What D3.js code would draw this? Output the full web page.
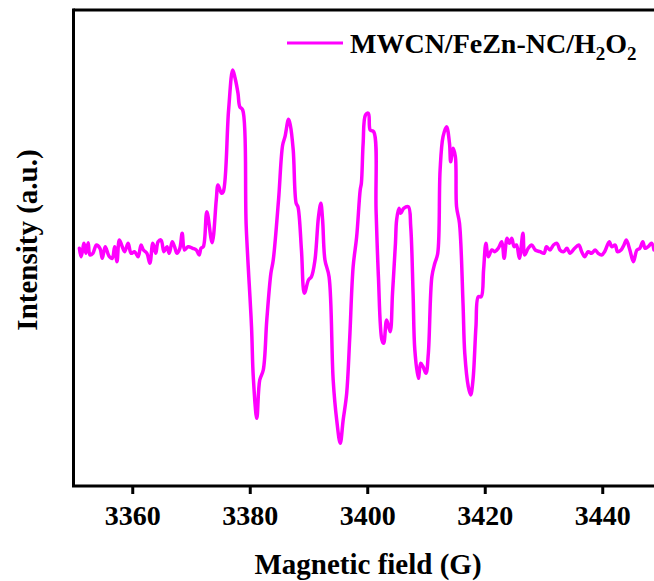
<!DOCTYPE html>
<html>
<head>
<meta charset="utf-8">
<script src="https://cdn.jsdelivr.net/npm/d3@7"></script>
<style>
  html, body { margin: 0; padding: 0; background: #fff; }
  svg { display: block; }
  text { font-family: "Liberation Serif", "Times New Roman", serif; font-weight: bold; fill: #000; }
</style>
</head>
<body>
<svg id="chart" width="654" height="581"></svg>
<script>
// Magnetic field (G)
const field = [
  3351.0,3351.3,3351.8,3352.1,3352.5,3352.8,3353.3,3353.9,3354.5,3354.9,3355.4,3356.1,3356.6,3357.0,3357.4,3357.8,3358.3,
  3358.7,3359.3,3359.8,3360.4,3361.0,3361.5,3361.9,3362.5,3363.0,3363.5,3364.0,3364.4,3364.9,3365.4,3365.9,3366.3,3366.8,
  3367.2,3367.6,3368.1,3368.5,3368.9,3369.5,3370.3,3370.9,3371.4,3371.7,3372.1,
  3372.7,3373.6,3374.3,3374.6,3375.2,3375.5,3376.4,3377.1,3377.5,3378.0,3378.3,3378.8,3379.4,3380.3,3380.6,3381.2,
  3381.7,3382.3,3382.9,3383.6,3384.0,3384.9,3385.6,3386.0,3386.6,3386.9,3387.4,3387.9,3388.2,3388.8,3389.3,3390.0,
  3390.5,3391.1,3391.7,3392.1,3392.4,3392.8,3393.5,3394.2,3394.8,3395.4,3395.9,3396.5,3397.0,3397.6,3398.2,3398.8,
  3399.0,3399.3,3399.7,3400.2,3400.5,3401.1,3401.5,3401.9,3402.5,3402.8,3403.3,3403.9,3404.3,3404.8,3405.0,3405.4,
  3405.7,3406.2,3407.0,3407.4,3407.8,3408.1,3408.7,3409.1,3409.5,3410.0,3410.4,3411.0,3411.5,3412.0,3412.4,3412.9,
  3413.5,3414.0,3414.2,3414.6,3415.0,3415.2,3415.7,3416.3,3416.6,3417.2,3417.6,3418.0,3418.5,3418.9,3419.4,3419.8,3420.2,
  3420.6,3421.2,3421.7,3422.3,3422.9,3423.3,3423.8,3424.2,3424.6,3425.0,3425.4,3425.9,3426.5,3426.8,3427.4,3428.0,3428.6,
  3429.4,3430.1,3430.5,3431.1,3431.7,3432.3,3432.8,3433.4,3434.0,3434.5,3435.3,3436.0,3436.5,3437.0,3437.6,3438.2,
  3438.8,3439.3,3439.9,3440.4,3441.2,3441.6,3442.2,3442.6,3443.2,3443.7,3444.1,3444.7,3445.3,3445.9,3446.4,3446.9,
  3447.3,3447.8,3448.4,3448.8
];
// Intensity (a.u.)
const intensity = [
  1.7,-6.7,6.7,-3.3,7.3,-5,-3.3,5,1.7,-8.3,3.3,-6.7,-8.3,3.3,-11.7,10,3.3,
  -1.7,6.7,-3.3,-1.7,-6.7,5,0,-3.3,-13.3,6.7,-3.3,8.3,10,-1.7,3.3,-3.3,8.3,
  3.3,-3.3,1.7,16.7,0,3.3,1.7,0,-5,1.7,3.3,
  38.3,7.3,50,65,56.7,58.3,140,180,172,156.7,143.3,140,23.3,-76.7,-126.7,-168.3,
  -130,-120,-70,-23.3,-10,50,105,113.3,130.7,125,100,46.7,43.3,0,-43.3,-30,
  -26.7,-10,33.3,46.7,30,-10,-26.7,-130,-170,-193.3,-170,-143.3,-90,-16.7,13.3,60,
  66.7,106.7,135,136.7,120,118.3,40,-26.7,-90,-93.3,-70,-81.7,-43.3,6.7,30,41.7,
  36.7,41.7,43.3,23.3,-43.3,-100,-128.3,-113.3,-116.7,-123.3,-103.3,-26.7,-13.3,-3.3,80,113.3,
  123.3,106.7,88.3,101.7,93.3,43.3,26.7,-53.3,-103.3,-136.7,-145,-130,-76.7,-46.7,-46.7,-20,6.7,
  -6.7,0,-1.7,1.7,8.3,-8.3,11.7,6.7,11.7,3.3,5,-8.3,16.7,-5,1.7,5,0,
  -1.7,-3.3,3.3,0,5,6.7,0,-1.7,1.7,-3.3,1.7,5,-1.7,-6.7,-1.7,-3.3,
  0,-3.3,-5,-1.7,8.3,3.3,5,-1.7,0,5,10,0,-11.7,0,1.7,8.3,
  1.7,3.3,6.7,0
];
const xTicks = [3360, 3380, 3400, 3420, 3440];
const seriesName = ["MWCN/FeZn-NC/H", "2", "O", "2"];
const xTitle = "Magnetic field (G)";
const yTitle = "Intensity (a.u.)";

const data = field.map((f, i) => ({x: f, y: intensity[i]}));

const svg = d3.select("#chart");
const mLeft = 73.5, mTop = 10, mBottom = 486, mRight = 661;
const x = d3.scaleLinear().domain([3350, 3450]).range([mLeft, mRight]);
const y = d3.scaleLinear().domain([-236, 240]).range([mBottom, mTop]);

const color = "#ff00ff";
const axisW = 3;

// frame (top and left; right side falls outside the picture)
svg.append("line").attr("x1", mLeft).attr("x2", mRight).attr("y1", mTop).attr("y2", mTop)
  .attr("stroke", "#000").attr("stroke-width", axisW);
svg.append("line").attr("x1", mLeft).attr("x2", mLeft).attr("y1", mTop - axisW / 2).attr("y2", mBottom)
  .attr("stroke", "#000").attr("stroke-width", axisW);

// x axis
const xAxis = d3.axisBottom(x).tickValues(xTicks).tickSize(8).tickPadding(11).tickFormat(d3.format("d"));
const gx = svg.append("g").attr("transform", `translate(0,${mBottom})`).call(xAxis);
gx.select(".domain").remove();
gx.append("line").attr("x1", mLeft - axisW / 2).attr("x2", mRight).attr("y1", 0).attr("y2", 0)
  .attr("stroke", "#000").attr("stroke-width", axisW);
gx.selectAll(".tick line").attr("stroke", "#000").attr("stroke-width", axisW);
gx.selectAll(".tick text").style("font-family", '"Liberation Serif", serif')
  .style("font-weight", "bold").style("font-size", "28px").attr("fill", "#000");

// line
const line = d3.line().x(d => x(d.x)).y(d => y(d.y)).curve(d3.curveCatmullRom.alpha(0.5));
svg.append("path").datum(data).attr("d", line)
  .attr("fill", "none").attr("stroke", color).attr("stroke-width", 3.5)
  .attr("stroke-linejoin", "round").attr("stroke-linecap", "round");

// axis titles
svg.append("text").attr("x", 368).attr("y", 574).attr("text-anchor", "middle")
  .style("font-size", "29px").text(xTitle);
svg.append("text").attr("transform", "translate(37,240) rotate(-90)").attr("text-anchor", "middle")
  .style("font-size", "29px").text(yTitle);

// legend
svg.append("line").attr("x1", 287).attr("x2", 343).attr("y1", 43).attr("y2", 43)
  .attr("stroke", color).attr("stroke-width", 3);
const lt = svg.append("text").attr("x", 350).attr("y", 53).style("font-size", "28px");
lt.append("tspan").text(seriesName[0]);
lt.append("tspan").attr("dy", 7).style("font-size", "19px").text(seriesName[1]);
lt.append("tspan").attr("dy", -7).text(seriesName[2]);
lt.append("tspan").attr("dy", 7).style("font-size", "19px").text(seriesName[3]);
</script>
</body>
</html>
